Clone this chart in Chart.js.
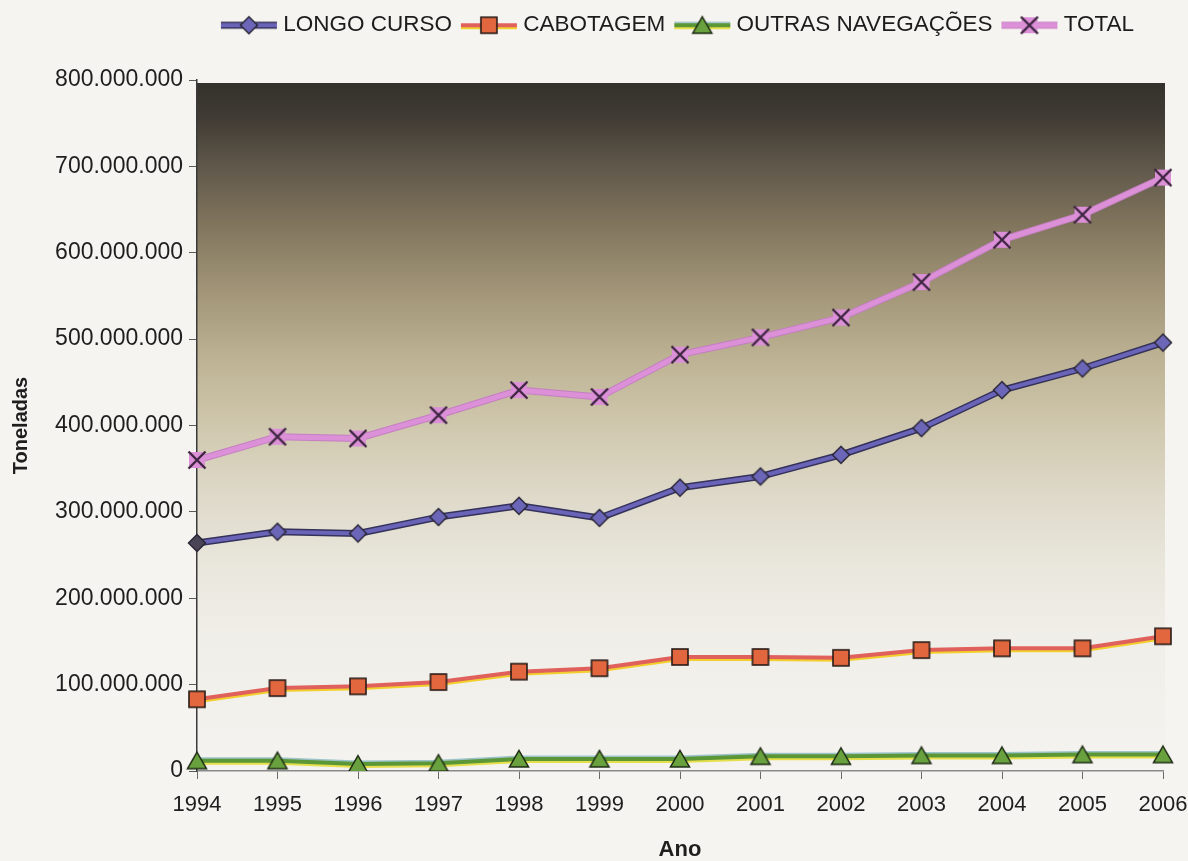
<!DOCTYPE html>
<html lang="pt-BR">
<head>
<meta charset="utf-8">
<title>Movimentação de cargas por tipo de navegação</title>
<script src="https://cdn.jsdelivr.net/npm/chart.js@4.4.1/dist/chart.umd.min.js"></script>
<style>
  html, body { margin: 0; padding: 0; background: #f5f4f0; }
  #wrap { width: 1188px; height: 861px; }
</style>
</head>
<body>
<div id="wrap"><canvas id="chart" width="1188" height="861"></canvas></div>
<script>
// Anos da série
const years = ['1994', '1995', '1996', '1997', '1998', '1999', '2000',
               '2001', '2002', '2003', '2004', '2005', '2006'];

// Toneladas movimentadas por tipo de navegação
const longoCurso = [264000000, 277000000, 275000000, 294000000, 307000000, 293000000, 328000000,
                    341000000, 366000000, 397000000, 441000000, 466000000, 496000000];
const cabotagem  = [83000000, 96000000, 98000000, 103000000, 115000000, 119000000, 132000000,
                    132000000, 131000000, 140000000, 142000000, 142000000, 156000000];
const outrasNavegacoes = [12000000, 12000000, 8000000, 9000000, 14000000, 14000000, 14000000,
                          17000000, 17000000, 18000000, 18000000, 19000000, 19000000];
const total      = [360000000, 387000000, 385000000, 412000000, 441000000, 433000000, 482000000,
                    502000000, 525000000, 566000000, 615000000, 644000000, 687000000];

// Eixo Y
const yMin = 0;
const yMax = 800000000;
const yStep = 100000000;

const seriesNames = ['LONGO CURSO', 'CABOTAGEM', 'OUTRAS NAVEGAÇÕES', 'TOTAL'];

const FONT = "'Liberation Sans', Arial, Helvetica, sans-serif";

function fmtThousands(v) {
  return String(Math.round(v)).replace(/\B(?=(\d{3})+(?!\d))/g, '.');
}

// ---- marcadores desenhados em canvas ----
function makeCanvas(w, h, draw) {
  const c = document.createElement('canvas');
  c.width = w; c.height = h;
  draw(c.getContext('2d'), w, h);
  return c;
}

function diamond(fill) {
  return (ctx, x, y) => {
    ctx.beginPath();
    ctx.moveTo(x, y - 8.5); ctx.lineTo(x + 8.5, y); ctx.lineTo(x, y + 8.5); ctx.lineTo(x - 8.5, y);
    ctx.closePath();
    ctx.fillStyle = fill; ctx.fill();
    ctx.lineWidth = 1.5; ctx.strokeStyle = '#2a2737'; ctx.stroke();
  };
}
function square(ctx, x, y) {
  ctx.fillStyle = '#e2673e';
  ctx.fillRect(x - 8, y - 8, 16, 16);
  ctx.lineWidth = 1.6; ctx.strokeStyle = '#2a1c17';
  ctx.strokeRect(x - 8, y - 8, 16, 16);
}
function triangle(ctx, x, y) {
  ctx.beginPath();
  ctx.moveTo(x, y - 8.5); ctx.lineTo(x + 9.5, y + 8); ctx.lineTo(x - 9.5, y + 8);
  ctx.closePath();
  ctx.fillStyle = '#69a13e'; ctx.fill();
  ctx.lineWidth = 1.5; ctx.strokeStyle = '#1b2812'; ctx.stroke();
}
function cross(ctx, x, y) {
  ctx.fillStyle = '#dc90d8';
  ctx.fillRect(x - 8, y - 8, 16, 16);
  ctx.beginPath();
  ctx.moveTo(x - 8.5, y - 8.5); ctx.lineTo(x + 8.5, y + 8.5);
  ctx.moveTo(x + 8.5, y - 8.5); ctx.lineTo(x - 8.5, y + 8.5);
  ctx.lineWidth = 2.4; ctx.strokeStyle = '#3e2540'; ctx.stroke();
}

const markerDraw = [diamond('#6c66b8'), square, triangle, cross];
const markers = markerDraw.map(fn => makeCanvas(24, 24, (ctx) => fn(ctx, 12, 12)));
const diamondDark = makeCanvas(24, 24, (ctx) => diamond('#4a4556')(ctx, 12, 12));

// estilos de linha (faixa principal + bordas)
const lineMain = ['#6a64b8', '#e0605c', '#5c9737', '#dc90d8'];
const lineUnder = [
  [{ color: '#34315a', width: 7, dy: 0 }],
  [{ color: '#f2cf2c', width: 4, dy: 2 }],
  [{ color: '#9cc3c9', width: 3, dy: -2 }, { color: '#e6df4c', width: 4, dy: 2 }],
  [{ color: '#c47fc1', width: 7, dy: 0 }]
];
const lineWidth = [4, 4, 4, 5];

// ícones da legenda: segmento de linha com o marcador ao centro
const legendIcons = markerDraw.map((fn, i) => makeCanvas(62, 24, (ctx, w, h) => {
  ctx.lineCap = 'butt';
  lineUnder[i].forEach(u => {
    ctx.beginPath(); ctx.moveTo(3, 12 + u.dy); ctx.lineTo(w - 3, 12 + u.dy);
    ctx.strokeStyle = u.color; ctx.lineWidth = u.width; ctx.stroke();
  });
  ctx.beginPath(); ctx.moveTo(3, 12); ctx.lineTo(w - 3, 12);
  ctx.strokeStyle = lineMain[i]; ctx.lineWidth = lineWidth[i]; ctx.stroke();
  fn(ctx, w / 2, 12);
}));

// ---- plugins ----
const paperBackground = {
  id: 'paperBackground',
  beforeDraw(chart) {
    const { ctx, chartArea: a } = chart;
    ctx.save();
    ctx.fillStyle = '#f5f4f0';
    ctx.fillRect(0, 0, chart.width, chart.height);
    const top = a.top + 3;
    const g = ctx.createLinearGradient(0, top, 0, a.bottom);
    g.addColorStop(0.00, '#34312c');
    g.addColorStop(0.05, '#403b34');
    g.addColorStop(0.12, '#5f574a');
    g.addColorStop(0.20, '#7f735c');
    g.addColorStop(0.30, '#a19477');
    g.addColorStop(0.40, '#bdb293');
    g.addColorStop(0.50, '#d0c8ae');
    g.addColorStop(0.60, '#ded9c9');
    g.addColorStop(0.70, '#e9e6dc');
    g.addColorStop(0.80, '#f0eee8');
    g.addColorStop(1.00, '#f4f3ef');
    ctx.fillStyle = g;
    ctx.fillRect(a.left, top, a.right - a.left + 2, a.bottom - top);
    ctx.restore();
  }
};

const lineUnderlay = {
  id: 'lineUnderlay',
  beforeDatasetDraw(chart, args) {
    const ds = chart.data.datasets[args.index];
    if (!ds.underlay) return;
    const pts = args.meta.data;
    const ctx = chart.ctx;
    ctx.save();
    ctx.lineJoin = 'round';
    ctx.lineCap = 'round';
    ds.underlay.forEach(u => {
      ctx.beginPath();
      pts.forEach((p, i) => {
        if (i === 0) ctx.moveTo(p.x, p.y + u.dy); else ctx.lineTo(p.x, p.y + u.dy);
      });
      ctx.strokeStyle = u.color;
      ctx.lineWidth = u.width;
      ctx.stroke();
    });
    ctx.restore();
  }
};

// espaço entre a legenda e a área de plotagem
const legendSpace = {
  id: 'legendSpace',
  beforeUpdate(chart) {
    const lg = chart.legend;
    if (lg && !lg._spaced) {
      const fit = lg.fit;
      lg.fit = function () { fit.call(this); this.height = 80; };
      lg._spaced = true;
    }
  }
};

const seriesData = [longoCurso, cabotagem, outrasNavegacoes, total];

const datasets = seriesData.map((data, i) => ({
  label: seriesNames[i],
  data: data,
  borderColor: lineMain[i],
  borderWidth: lineWidth[i],
  backgroundColor: lineMain[i],
  tension: 0,
  fill: false,
  borderJoinStyle: 'round',
  pointStyle: i === 0 ? (c => (c.dataIndex === 0 ? diamondDark : markers[0])) : markers[i],
  pointRadius: 10,
  pointHoverRadius: 10,
  underlay: lineUnder[i]
}));

Chart.defaults.font.family = FONT;

new Chart(document.getElementById('chart'), {
  type: 'line',
  data: { labels: years, datasets: datasets },
  options: {
    responsive: false,
    animation: false,
    events: [],
    devicePixelRatio: 1,
    layout: { padding: 0 },
    plugins: {
      tooltip: { enabled: false },
      legend: {
        display: true,
        position: 'top',
        fullSize: false,
        labels: {
          usePointStyle: true,
          pointStyleWidth: 46,
          padding: 14,
          color: '#1c1c1c',
          font: { family: FONT, size: 22.5 },
          generateLabels(chart) {
            const items = Chart.defaults.plugins.legend.labels.generateLabels(chart);
            items.forEach(it => {
              it.pointStyle = legendIcons[it.datasetIndex];
              it.lineWidth = 0;
            });
            return items;
          }
        }
      }
    },
    scales: {
      x: {
        type: 'category',
        offset: false,
        border: { display: true, color: '#8a8a8a', width: 1.5 },
        grid: { display: true, drawOnChartArea: false, drawTicks: true, tickLength: 8, color: '#6a6a6a', lineWidth: 1 },
        ticks: { color: '#1e1e1e', padding: 13, maxRotation: 0, autoSkip: false, font: { family: FONT, size: 22 } },
        title: {
          display: true,
          text: 'Ano',
          color: '#1e1e1e',
          font: { family: FONT, size: 22, weight: 'bold', lineHeight: 1 },
          padding: { top: 0, bottom: 0 }
        },
        afterFit(scale) {
          scale.height = 90;
          scale.paddingLeft = 0;
          scale.paddingRight = 25;
        }
      },
      y: {
        min: yMin,
        max: yMax,
        border: { display: true, color: '#3a3a3a', width: 1.5 },
        grid: { display: true, drawOnChartArea: false, drawTicks: true, tickLength: 8, color: '#5a5a5a', lineWidth: 1 },
        ticks: {
          stepSize: yStep,
          color: '#1e1e1e',
          padding: 6,
          font: { family: FONT, size: 23 },
          callback: v => fmtThousands(v)
        },
        title: {
          display: true,
          text: 'Toneladas',
          color: '#1e1e1e',
          font: { family: FONT, size: 20, weight: 'bold', lineHeight: 1 },
          padding: { top: 11, bottom: 0 }
        },
        afterFit(scale) { scale.width = 197; }
      }
    }
  },
  plugins: [paperBackground, lineUnderlay, legendSpace]
});
</script>
</body>
</html>
